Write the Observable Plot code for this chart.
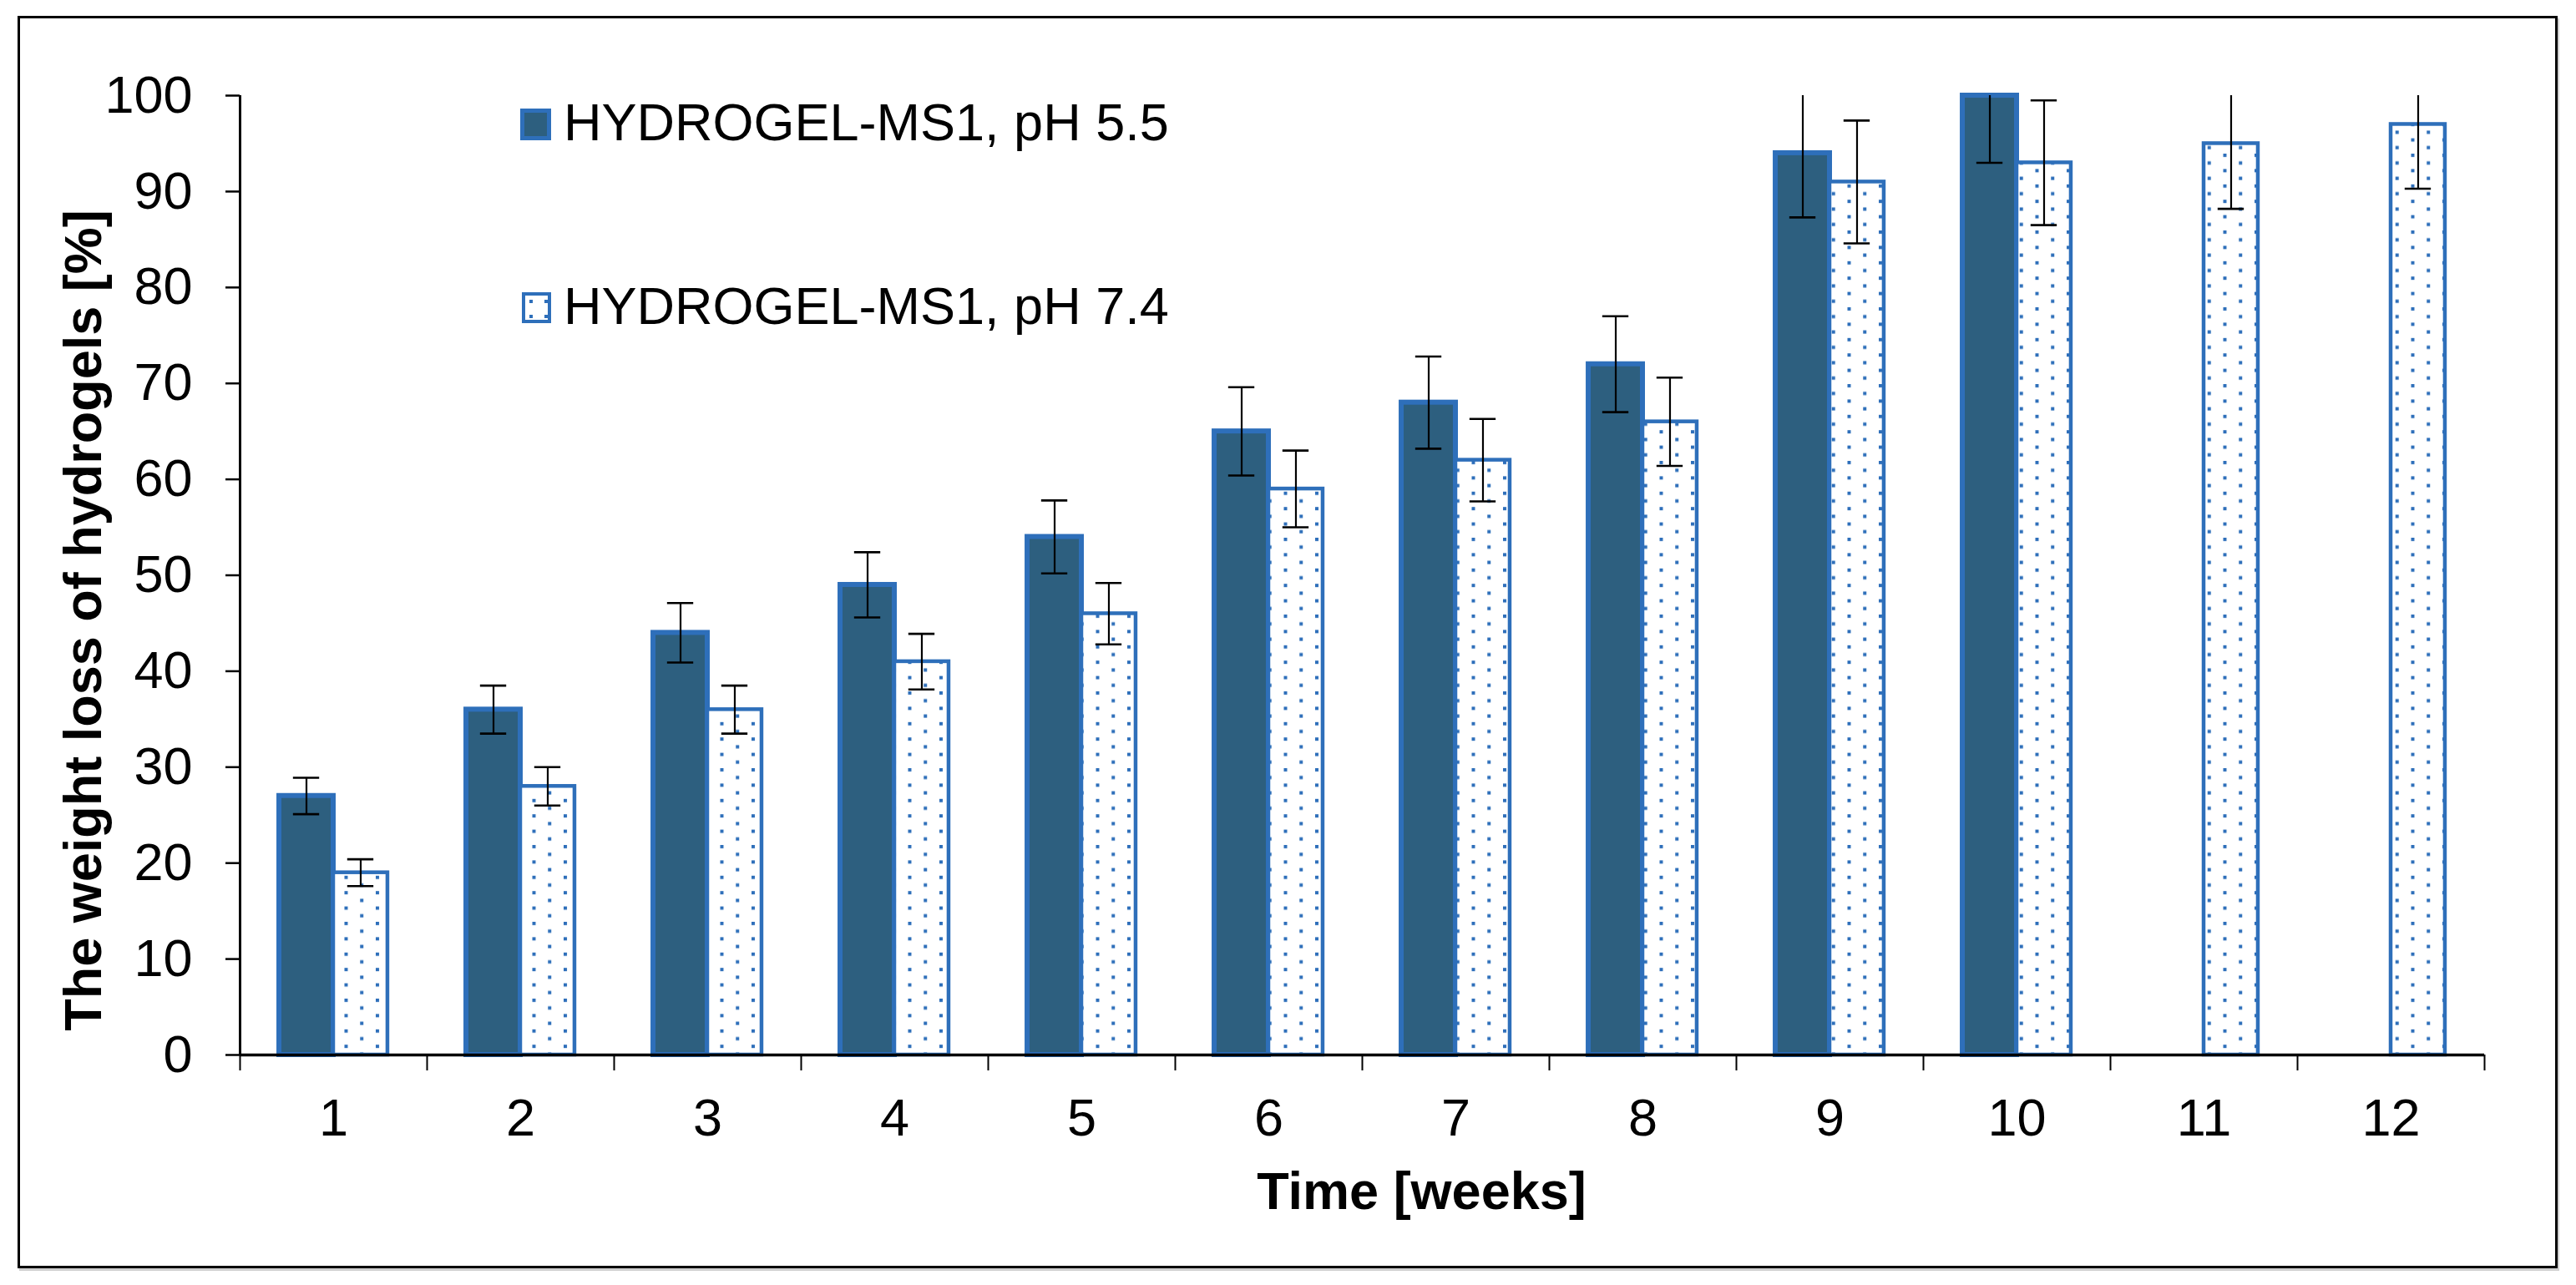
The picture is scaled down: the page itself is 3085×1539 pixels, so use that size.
<!DOCTYPE html>
<html>
<head>
<meta charset="utf-8">
<script src="https://cdn.jsdelivr.net/npm/d3@7"></script>
<script src="https://cdn.jsdelivr.net/npm/@observablehq/plot@0.6"></script>
<style>
  html, body { margin: 0; padding: 0; background: #fff; }
  #wrap { position: relative; width: 3085px; height: 1539px; overflow: hidden; font-family: "Liberation Sans", Arial, sans-serif; }
  #frameBox { position: absolute; left: 21px; top: 19px; width: 3042px; height: 1500px; box-sizing: border-box; border: 3px solid #000; box-shadow: 2px 3px 0 #cfcfcf; }
  #chart { position: absolute; left: 0; top: 0; }
  .leg { position: absolute; font-size: 63px; line-height: 63px; color: #000; white-space: nowrap; }
  .sw { position: absolute; }
</style>
</head>
<body>
<div id="wrap">
  <div id="frameBox"></div>
  <div id="chart"></div>
  <div id="legend"></div>
</div>
<script>
// ---------- data ----------
const weeks = [1, 2, 3, 4, 5, 6, 7, 8, 9, 10, 11, 12];
const seriesNames = ["HYDROGEL-MS1, pH 5.5", "HYDROGEL-MS1, pH 7.4"];
const ph55 = [27, 36, 44, 49, 54, 65, 68, 72, 94, 100];
const ph55Err = [1.9, 2.5, 3.1, 3.4, 3.8, 4.6, 4.8, 5.0, 6.7, 7.0];
const ph74 = [19, 28, 36, 41, 46, 59, 62, 66, 91, 93, 95, 97];
const ph74Err = [1.4, 2.0, 2.5, 2.9, 3.2, 4.0, 4.3, 4.6, 6.4, 6.5, 6.8, 6.7];
const yTicks = [0, 10, 20, 30, 40, 50, 60, 70, 80, 90, 100];
const xTitle = "Time [weeks]";
const yTitle = "The weight loss of hydrogels [%]";

// ---------- styling ----------
const DARK = "#2d5f7f";
const BLUE = "#2e6fba";
const BAR = 0.29;   // bar width as a fraction of one week band
const CAP = 0.14;   // error cap width as a fraction of one week band
const FONT = 63;

const rows55 = ph55.map((v, i) => ({week: weeks[i], value: v, err: ph55Err[i], c: weeks[i] - BAR / 2}));
const rows74 = ph74.map((v, i) => ({week: weeks[i], value: v, err: ph74Err[i], c: weeks[i] + BAR / 2}));
const xDomain = [weeks[0] - 0.5, weeks[weeks.length - 1] + 0.5];
const boundaries = [...weeks.map(w => w - 0.5), weeks[weeks.length - 1] + 0.5];

function errMarks(rows) {
  return [
    Plot.ruleX(rows, {x: "c", y1: d => d.value - d.err, y2: d => d.value + d.err, stroke: "#000", strokeWidth: 2.2, clip: true}),
    Plot.ruleY(rows, {y: d => d.value + d.err, x1: d => d.c - CAP / 2, x2: d => d.c + CAP / 2, stroke: "#000", strokeWidth: 2.6, clip: true}),
    Plot.ruleY(rows, {y: d => d.value - d.err, x1: d => d.c - CAP / 2, x2: d => d.c + CAP / 2, stroke: "#000", strokeWidth: 2.6, clip: true})
  ];
}

const plot = Plot.plot({
  width: 3085,
  height: 1539,
  marginLeft: 287,
  marginRight: 110,
  marginTop: 114,
  marginBottom: 276,
  style: {fontFamily: "'Liberation Sans', Arial, sans-serif", fontSize: FONT + "px", background: "transparent", overflow: "visible", color: "#000"},
  x: {type: "linear", domain: xDomain},
  y: {domain: [0, 100]},
  marks: [
    Plot.rect(rows55, {x1: d => d.week - BAR, x2: "week", y1: 0, y2: "value", fill: DARK, stroke: BLUE, strokeWidth: 6}),
    Plot.rect(rows74, {x1: "week", x2: d => d.week + BAR, y1: 0, y2: "value", fill: "url(#dots)", stroke: BLUE, strokeWidth: 4.5}),
    ...errMarks(rows55),
    ...errMarks(rows74),
    Plot.axisY({ticks: yTicks, tickSize: 17, tickPadding: 40, tickFormat: d => String(d), label: null, fontSize: FONT, strokeWidth: 2.5, stroke: "#000"}),
    Plot.axisX({ticks: boundaries, tickSize: 19, tickFormat: () => "", label: null, strokeWidth: 2, stroke: "#000"}),
    Plot.axisX({ticks: weeks, tickSize: 0, tickPadding: 52, tickFormat: d => String(d), label: null, fontSize: FONT}),
    Plot.ruleX([xDomain[0]], {stroke: "#000", strokeWidth: 3}),
    Plot.ruleY([0], {stroke: "#000", strokeWidth: 3.5}),
    Plot.text([xTitle], {frameAnchor: "bottom", textAnchor: "middle", lineAnchor: "top", dy: 140, dx: 71, fontWeight: "bold", fontSize: FONT, fill: "#000"}),
    Plot.text([yTitle], {frameAnchor: "left", textAnchor: "middle", lineAnchor: "middle", rotate: -90, dx: -187, dy: 54, fontWeight: "bold", fontSize: FONT, fill: "#000"})
  ]
});

// dotted pattern for the pH 7.4 bars
const svgSel = d3.select(plot);
const defs = svgSel.insert("defs", ":first-child");
function addPattern(defsSel, id) {
  const p = defsSel.append("pattern").attr("id", id).attr("patternUnits", "userSpaceOnUse")
    .attr("width", 37.5).attr("height", 18.4);
  p.append("rect").attr("width", 37.5).attr("height", 18.4).attr("fill", "#fff");
  p.append("rect").attr("x", 0).attr("y", 0).attr("width", 4).attr("height", 4).attr("fill", BLUE);
  p.append("rect").attr("x", 18.75).attr("y", 9.2).attr("width", 4).attr("height", 4).attr("fill", BLUE);
}
addPattern(defs, "dots");
document.getElementById("chart").appendChild(plot);

// ---------- legend (HTML overlay) ----------
const legend = document.getElementById("legend");
const legendItems = [
  {name: seriesNames[0], swLeft: 623, swTop: 130, swW: 37, swH: 38, fill: DARK, sw: 5, textLeft: 675, baseline: 168},
  {name: seriesNames[1], swLeft: 625, swTop: 350, swW: 35, swH: 37, fill: "url(#dotsLeg)", sw: 4, textLeft: 675, baseline: 388}
];
legendItems.forEach((it, i) => {
  const s = d3.create("svg").attr("class", "sw").attr("width", it.swW).attr("height", it.swH)
    .style("left", it.swLeft + "px").style("top", it.swTop + "px");
  if (i === 1) {
    const d = s.append("defs");
    const p = d.append("pattern").attr("id", "dotsLeg").attr("patternUnits", "userSpaceOnUse").attr("width", 18).attr("height", 18);
    p.append("rect").attr("width", 18).attr("height", 18).attr("fill", "#fff");
    p.append("rect").attr("x", 9).attr("y", 9).attr("width", 4).attr("height", 4).attr("fill", BLUE);
  }
  s.append("rect").attr("x", it.sw / 2).attr("y", it.sw / 2).attr("width", it.swW - it.sw).attr("height", it.swH - it.sw)
    .attr("fill", it.fill).attr("stroke", BLUE).attr("stroke-width", it.sw);
  legend.appendChild(s.node());
  const t = document.createElement("div");
  t.className = "leg";
  t.textContent = it.name;
  t.style.left = it.textLeft + "px";
  t.style.top = (it.baseline - 53.3) + "px";
  legend.appendChild(t);
});
</script>
</body>
</html>
